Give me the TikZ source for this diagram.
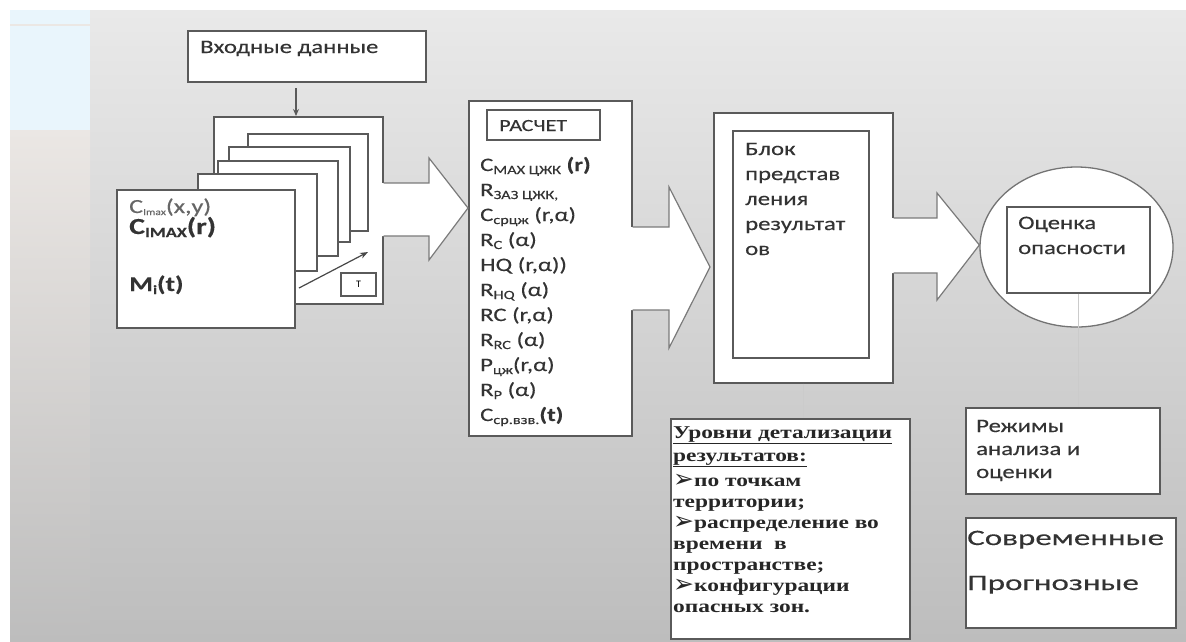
\documentclass[tikz,border=0pt]{standalone}
\usepackage{fontspec}
\setmainfont{Carlito}
\newfontfamily\wsans[FakeStretch=1.3,FakeBold=0.3]{Carlito}
\newfontfamily\wsansw[FakeStretch=1.5,FakeBold=0.3]{Carlito}
\newfontfamily\wserif[FakeStretch=1.3]{Liberation Serif}
\newfontfamily\djv{DejaVu Sans}
\usetikzlibrary{calc,arrows.meta,shapes.geometric}
\definecolor{edge}{HTML}{5A5A5A}
\definecolor{aedge}{HTML}{7A7A7A}
\definecolor{txtc}{HTML}{333333}
\definecolor{thinc}{HTML}{CBCBCB}
\definecolor{bgtop}{HTML}{E9E9E9}
\definecolor{bgmid}{HTML}{E2E2E2}
\definecolor{bgbot}{HTML}{BDBDBD}
\definecolor{lblue}{HTML}{E9F5FC}
\definecolor{beige}{HTML}{EBE7E4}
\newcommand\sbs[1]{\raisebox{-3pt}{\fontsize{12.5}{12.5}\selectfont #1}}
\newcommand\sbt[1]{\raisebox{-2pt}{\fontsize{9}{9}\selectfont #1}}
\newcommand\bul{{\djv\bfseries\fontsize{25}{25}\selectfont\raisebox{-1pt}{➢}}}
\tikzset{
  box/.style={draw=edge, line width=1.6pt, fill=white, inner sep=0pt, anchor=north west},
  txt/.style={inner sep=0pt, text=txtc, anchor=base west, font=\wsans\fontsize{19}{23}\selectfont},
  sertxt/.style={inner sep=0pt, text=black!85, anchor=base west, font=\wserif\bfseries\fontsize{18}{21}\selectfont},
  barrow/.style={draw=aedge, line width=1.2pt, line join=miter},
  thinline/.style={draw=thinc, line width=1.2pt},
}
\begin{document}
\begin{tikzpicture}[x=1pt,y=-1pt]
\useasboundingbox (0,0) rectangle (1186,641);
% background
\fill[white] (0,0) rectangle (1186,641);
\shade[top color=bgtop, middle color=bgmid, bottom color=bgbot] (10,10) rectangle (1186,641);
\fill[lblue] (10,10) rectangle (90,130);
\fill[beige] (10,24) rectangle (90,26);
\shade[top color=beige, bottom color=bgbot] (10,130) rectangle (90,641);

% input box
\node[box, minimum width=238pt, minimum height=51pt] (input) at (187,30) {};
\node[txt] (inputtxt) at (200,53) {Входные данные};

% stack of pages
\node[box, minimum width=169pt, minimum height=187pt] (frame) at (213,116) {};
\node[box, minimum width=120pt, minimum height=97pt] (p1) at (247,133) {};
\node[box, minimum width=121pt, minimum height=95pt] (p2) at (228,146) {};
\node[box, minimum width=120pt, minimum height=95pt] (p3) at (217,160) {};
\node[box, minimum width=119pt, minimum height=97pt] (p4) at (197,173) {};
\node[box, minimum width=178pt, minimum height=138pt] (front) at (116,189) {};
\node[box, minimum width=35pt, minimum height=23pt, anchor=center] (tbox) at (358.5,284.5) {\fontsize{10}{10}\selectfont Т};

\coordinate (inA) at (296,88);
\draw[edge, line width=1.3pt, -{Stealth[length=7pt,width=6pt]}] (inA) -- (frame.north -| inA);
\coordinate (tailA) at (299,288);
\coordinate (headA) at (368,252);
\draw[edge!80!black, line width=1.2pt, -{Stealth[length=8pt,width=6pt]}] (tailA) -- (headA);

\node[txt, text=black!60, font=\wsans\fontsize{20}{22}\selectfont] (c1) at (129,213) {C\sbt{Imax}(x,y)};
\node[txt, font=\wsans\bfseries\fontsize{23}{25}\selectfont] (c2) at (129,234) {C\raisebox{-3pt}{\fontsize{14}{14}\selectfont\bfseries IMAX}(r)};
\node[txt, font=\wsans\bfseries\fontsize{21}{24}\selectfont] (c3) at (129,291) {M\sbs{\bfseries i}(t)};

% calculation box
\node[box, minimum width=163pt, minimum height=335pt] (rasch) at (468,100) {};
\node[box, minimum width=113pt, minimum height=30pt] (raschT) at (486,109) {};
\node[txt, font=\wsans\fontsize{17}{18}\selectfont] (raschTxt) at (499,131) {РАСЧЕТ};
\foreach \t [count=\i] in {
  {C\sbs{MAX ЦЖК} \textbf{(r)}},
  {R\sbs{ЗАЗ ЦЖК,}},
  {C\sbs{срцж} (r,α)},
  {R\sbs{C} (α)},
  {HQ (r,α))},
  {R\sbs{HQ} (α)},
  {RC (r,α)},
  {R\sbs{RC} (α)},
  {P\sbs{цж}(r,α)},
  {R\sbs{P} (α)},
  {C\sbs{ср.взв.}\textbf{(t)}}}
  \node[txt] (rl\i) at (480,{171+25*(\i-1)}) {\t};

% results block
\node[box, minimum width=179pt, minimum height=270pt] (blok) at (713,112) {};
\node[box, minimum width=136pt, minimum height=227pt] (blokin) at (732,130) {};
\foreach \t [count=\i] in {Блок, представ, ления, результат, ов}
  \node[txt] (bl\i) at (745,{155+25*(\i-1)}) {\t};

% assessment ellipse
\node[ellipse, draw=edge!85, line width=1.3pt, fill=white, minimum width=193pt, minimum height=160pt, inner sep=0pt] (ell) at (1076.5,247) {};
\node[box, minimum width=143pt, minimum height=86pt] (ocenka) at (1006,206) {};
\node[txt] (oc1) at (1018,229) {Оценка};
\node[txt] (oc2) at (1018,254) {опасности};

% block arrows
\fill[white] ([xshift=-1.5pt]frame.east |- 0,183) -- (429,183) -- (429,158) -- (rasch.west |- 0,208) -- (429,260) -- (429,236) -- ([xshift=-1.5pt]frame.east |- 0,236) -- cycle;
\draw[barrow] (frame.east |- 0,183) -- (429,183) -- (429,158) -- (rasch.west |- 0,208) -- (429,260) -- (429,236) -- (frame.east |- 0,236);

\fill[white] ([xshift=-1.5pt]rasch.east |- 0,227) -- (669,227) -- (669,187) -- ([xshift=-3pt]blok.west |- 0,267) -- (669,348) -- (669,310) -- ([xshift=-1.5pt]rasch.east |- 0,310) -- cycle;
\draw[barrow] (rasch.east |- 0,227) -- (669,227) -- (669,187) -- ([xshift=-3pt]blok.west |- 0,267) -- (669,348) -- (669,310) -- (rasch.east |- 0,310);

\fill[white] ([xshift=-1.5pt]blok.east |- 0,218) -- (937,218) -- (937,193) -- (ell.west |- 0,245) -- (937,300) -- (937,273) -- ([xshift=-1.5pt]blok.east |- 0,273) -- cycle;
\draw[barrow] (blok.east |- 0,218) -- (937,218) -- (937,193) -- (ell.west |- 0,245) -- (937,300) -- (937,273) -- (blok.east |- 0,273);

% detail box
\node[box, minimum width=239pt, minimum height=220pt] (detail) at (670,418) {};
\draw[thinline] (blok.south) -- (detail.north -| blok.south);
\node[sertxt] (d1) at (673,438) {\underline{Уровни детализации}};
\node[sertxt] (d2) at (673,461) {\underline{результатов:}};
\node[sertxt] (d3) at (673,486) {\bul по точкам};
\node[sertxt] (d4) at (673,507) {территории;};
\node[sertxt] (d5) at (673,528) {\bul распределение во};
\node[sertxt] (d6) at (673,549) {времени~~в};
\node[sertxt] (d7) at (673,570) {пространстве;};
\node[sertxt] (d8) at (673,591) {\bul конфигурации};
\node[sertxt] (d9) at (673,612) {опасных зон.};

% modes boxes
\node[box, minimum width=194pt, minimum height=86pt] (rezhim) at (965,407) {};
\draw[thinline] (ocenka.south) -- (rezhim.north -| ocenka.south);
\node[txt] (rz1) at (976,432) {Режимы};
\node[txt] (rz2) at (976,455) {анализа и};
\node[txt] (rz3) at (976,478) {оценки};
\node[box, minimum width=210pt, minimum height=110pt] (modes) at (965,517) {};
\node[txt, font=\wsansw\fontsize{22}{24}\selectfont] (m1) at (967,545) {Современные};
\node[txt, font=\wsansw\fontsize{22}{24}\selectfont] (m2) at (967,590) {Прогнозные};
\end{tikzpicture}
\end{document}
